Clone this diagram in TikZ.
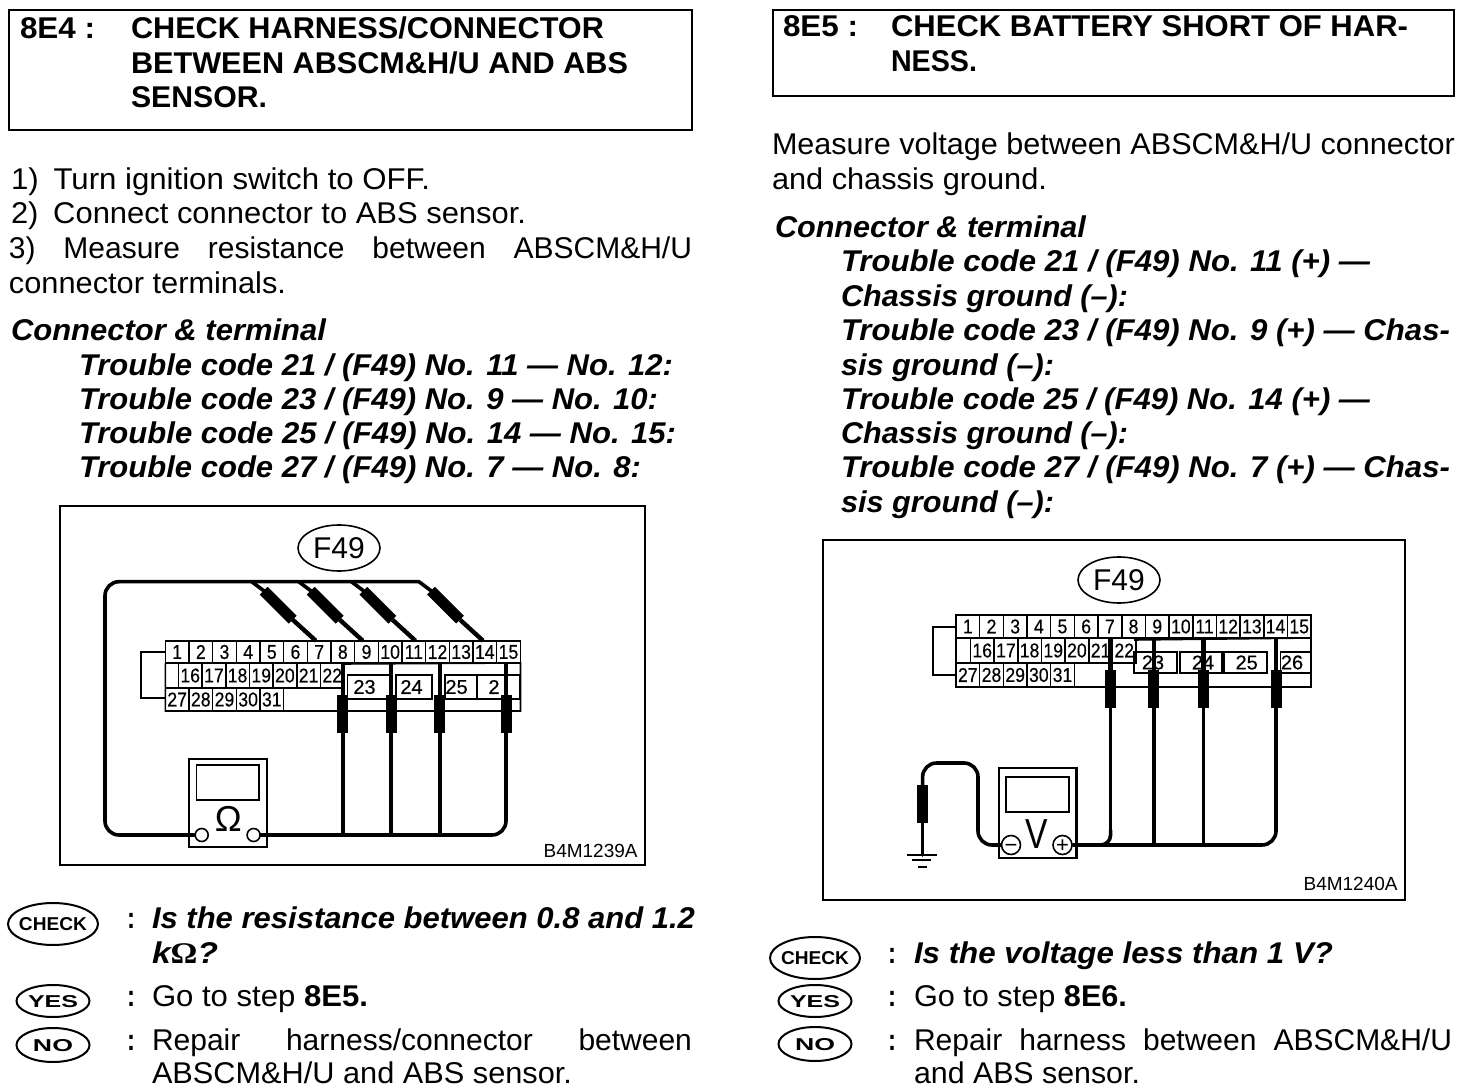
\documentclass[tikz,border=0pt]{standalone}
\usepackage{fontspec}
\usepackage{graphicx}
\setmainfont{Liberation Sans}
\newfontfamily\serifom{Liberation Serif}
\newfontfamily\digitfont[FakeBold=0.4]{Liberation Sans}
\usetikzlibrary{shapes.geometric}
\newcount\tcnt
\newcommand{\rg}{\fontsize{15}{17}\selectfont}
\newcommand{\bd}{\fontsize{15}{17}\selectfont\bfseries}
\newcommand{\bi}{\fontsize{15}{17}\selectfont\bfseries\itshape}
% fitted line: x, baseline y, width px, font, text
\newcommand{\tl}[5]{\global\advance\tcnt by 1
  \node[txt] (t\the\tcnt) at (#1,#2) {\resizebox{\dimexpr#3pt/2\relax}{\height}{#4#5}};}
% justified line
\newcommand{\tj}[5]{\global\advance\tcnt by 1
  \node[txt] (t\the\tcnt) at (#1,#2) {\makebox[\dimexpr#3pt/2\relax][s]{#4#5}};}
% row of cells: prefix, x0, ytop, ybottom, labels
\newcommand{\cells}[5]{%
  \foreach \l [count=\i from 0] in {#5} {
    \node[cellbox, minimum height=\dimexpr(#4pt-#3pt)/2\relax] (#1\l) at ({#2+23.67*\i+11.83},{(#3+#4)/2}) {\scalebox{0.88}[1]{\l}};
  }}
% upright probe: prefix, x, ypin, ythick, yend, ybottom
\newcommand{\vprobe}[6]{%
  \coordinate (#1a) at (#2,#3);
  \coordinate (#1b) at (#2,#4);
  \coordinate (#1c) at (#2,#5);
  \coordinate (#1d) at (#2,#6);
  \draw[pin] (#1a) -- (#1b);
  \draw[grip] (#1b) -- (#1c);
  \draw[wire] (#1c) -- (#1d);}
% slanted probe: prefix, start x, start y
\newcommand{\dprobe}[3]{%
  \coordinate (#1a) at (#2,#3);
  \coordinate (#1b) at ({#2+12},{#3+9});
  \coordinate (#1c) at ({#2+41},{#3+38});
  \coordinate (#1d) at ({#2+64},{#3+59});
  \draw[wire] (#1a) -- (#1b);
  \draw[grip] (#1b) -- (#1c);
  \draw[pin] (#1c) -- (#1d);}
\tikzset{
  txt/.style={anchor=base west,inner sep=0pt,outer sep=0pt},
  frame/.style={draw,line width=1.1pt},
  figframe/.style={draw,line width=0.9pt},
  cellbox/.style={draw,line width=0.8pt,rectangle,inner sep=0pt,minimum width=11.83pt,font=\digitfont\fontsize{10}{10}\selectfont},
  blockbox/.style={draw,line width=0.8pt,rectangle,inner sep=0pt},
  blocklabel/.style={inner sep=0pt,font=\digitfont\fontsize{10}{10}\selectfont},
  thinln/.style={line width=0.8pt},
  wire/.style={line width=1.8pt,line cap=round,line join=round},
  pin/.style={line width=2.2pt},
  grip/.style={line width=5.5pt},
  tag/.style={draw,ellipse,line width=1pt,inner sep=0pt,fill=white},
  fortynine/.style={draw,ellipse,line width=0.8pt,inner sep=0pt,minimum width=41pt,minimum height=23pt,font=\fontsize{15}{15}\selectfont},
  term/.style={draw,circle,line width=0.8pt,inner sep=0pt,fill=white},
  code/.style={anchor=base east,inner sep=0pt,font=\fontsize{9.5}{10}\selectfont},
}
\newcommand{\tagtext}[3]{\makebox[0pt][c]{\smash{\raisebox{-0.5\dimexpr#2pt\relax}{\resizebox{#1pt}{#2pt}{\bfseries #3}}}}}
\newcommand{\termsign}[1]{\makebox[0pt][c]{\smash{\raisebox{-3.6pt}{\fontsize{11}{11}\selectfont #1}}}}
\begin{document}
\begin{tikzpicture}[x=0.5pt,y=-0.5pt]
\useasboundingbox (0,0) rectangle (1472,1090);
\fill[white] (0,0) rectangle (1472,1090);
%% ---------- LEFT COLUMN ----------
\draw[frame] (9,10) rectangle (692,130);
\tl{20}{39}{75}{\bd}{8E4 :}
\tl{131}{39}{473}{\bd}{CHECK HARNESS/CONNECTOR}
\tl{131}{74}{497}{\bd}{BETWEEN ABSCM\&H/U AND ABS}
\tl{131}{108}{136}{\bd}{SENSOR.}
\tl{11}{190}{419}{\rg}{1)\hspace{3pt} Turn ignition switch to OFF.}
\tl{11}{224}{515}{\rg}{2)\hspace{3pt} Connect connector to ABS sensor.}
\tj{9}{259}{683}{\rg}{3) Measure resistance between ABSCM\&H/U}
\tl{9}{294}{277}{\rg}{connector terminals.}
\tl{11}{341}{315}{\bi}{Connector \& terminal}
\tl{79}{376}{594}{\bi}{Trouble code 21 / (F49) No. 11 — No. 12:}
\tl{79}{410}{579}{\bi}{Trouble code 23 / (F49) No. 9 — No. 10:}
\tl{79}{444}{597}{\bi}{Trouble code 25 / (F49) No. 14 — No. 15:}
\tl{79}{478}{562}{\bi}{Trouble code 27 / (F49) No. 7 — No. 8:}
% left figure
\draw[figframe] (60,506) rectangle (645,865);
\node[fortynine] (fa) at (339,548) {F49};
\draw[thinln] (165,652) -- (141,652) -- (141,698) -- (165,698);
\cells{a}{165.3}{641}{663}{1,2,3,4,5,6,7,8,9,10,11,12,13,14,15}
\cells{b}{178.4}{663}{688}{16,17,18,19,20,21,22}
\cells{c}{165.3}{688}{711}{27,28,29,30,31}
\draw[thinln] (165.3,663) -- (165.3,711) -- (520.5,711) -- (520.5,663) -- (342,664);
\node[blockbox,minimum width=21.7pt,minimum height=12pt] (a23) at (369,687) {};
\node[blockbox,minimum width=18pt,minimum height=12pt] (a24) at (414,687) {};
\node[blockbox,minimum width=16pt,minimum height=12pt] (a25) at (461,687) {};
\node[blockbox,minimum width=21.5pt,minimum height=12pt] (a26) at (498.5,687) {};
\node[blocklabel] (la23) at (364.5,687) {23};
\node[blocklabel] (la24) at (411.5,687) {24};
\node[blocklabel] (la25) at (456.6,687) {25};
\node[blocklabel] (la26) at (494,687) {2};
\draw[frame] (189,759) rectangle (266.8,846.7);
\draw[thinln] (196.5,765) rectangle (259,800);
\node[inner sep=0pt,font=\fontsize{18}{18}\selectfont] (aom) at (228.4,819) {Ω};
\node[term,minimum size=6.5pt] (at1) at (201.7,835) {};
\node[term,minimum size=6.5pt] (at2) at (253.6,835) {};
\vprobe{p}{342.7}{663}{695}{733}{835}
\vprobe{q}{391}{663}{695}{733}{835}
\vprobe{r}{439.7}{663}{695}{733}{835}
\vprobe{s}{506}{663}{695}{733}{820}
\dprobe{u}{251.7}{581.7}
\dprobe{v}{298.7}{581.7}
\dprobe{w}{351.4}{581.7}
\dprobe{z}{419}{581.7}
\draw[wire,rounded corners=7pt] (at1) -- (105,835) -- (105,581.7) -- (za);
\draw[wire,rounded corners=7pt] (at2) -- (506,835) -- (sd);
\node[code] (acode) at (638,857) {B4M1239A};
\node[tag,minimum width=45pt,minimum height=21pt] (acheck) at (53,924) {\tagtext{34}{6.5}{CHECK}};
\node[tag,minimum width=36.5pt,minimum height=16pt] (ayes) at (53,1001) {\tagtext{25}{6}{YES}};
\node[tag,minimum width=36.5pt,minimum height=17pt] (ano) at (53,1045) {\tagtext{20}{6}{NO}};
\tl{127}{928}{8}{\bd}{:}
\tl{152}{928}{543}{\bi}{Is the resistance between 0.8 and 1.2}
\tl{152}{963}{66}{\bi}{k{\serifom\upshape Ω}?}
\tl{127}{1006}{8}{\bd}{:}
\tl{152}{1006}{216}{\rg}{Go to step \textbf{8E5.}}
\tl{127}{1050}{8}{\bd}{:}
\tj{152}{1050}{540}{\rg}{Repair harness/connector between}
\tl{152}{1083}{420}{\rg}{ABSCM\&H/U and ABS sensor.}
%% ---------- RIGHT COLUMN ----------
\draw[frame] (773,10) rectangle (1454,96);
\tl{783}{37}{75}{\bd}{8E5 :}
\tl{891}{37}{517}{\bd}{CHECK BATTERY SHORT OF HAR-}
\tl{891}{72}{86}{\bd}{NESS.}
\tl{772}{155}{683}{\rg}{Measure voltage between ABSCM\&H/U connector}
\tl{772}{190}{275}{\rg}{and chassis ground.}
\tl{775}{238}{311}{\bi}{Connector \& terminal}
\tl{841}{272}{529}{\bi}{Trouble code 21 / (F49) No. 11 (+) —}
\tl{841}{307}{287}{\bi}{Chassis ground (–):}
\tl{841}{341}{609}{\bi}{Trouble code 23 / (F49) No. 9 (+) — Chas-}
\tl{841}{376}{213}{\bi}{sis ground (–):}
\tl{841}{410}{529}{\bi}{Trouble code 25 / (F49) No. 14 (+) —}
\tl{841}{444}{287}{\bi}{Chassis ground (–):}
\tl{841}{478}{609}{\bi}{Trouble code 27 / (F49) No. 7 (+) — Chas-}
\tl{841}{513}{213}{\bi}{sis ground (–):}
% right figure
\draw[figframe] (823,540) rectangle (1405,900);
\node[fortynine] (fb) at (1119,580) {F49};
\draw[thinln] (956,627) -- (933,627) -- (933,675) -- (956,675);
\cells{d}{956}{615}{638}{1,2,3,4,5,6,7,8,9,10,11,12,13,14,15}
\cells{e}{970.4}{638}{663}{16,17,18,19,20,21,22}
\cells{f}{956}{663}{687}{27,28,29,30,31}
\draw[thinln] (956,638) -- (956,687) -- (1311,687) -- (1311,638) -- (1134,640);
\node[blockbox,minimum width=21.5pt,minimum height=10.5pt] (b23) at (1155.5,662.5) {};
\node[blockbox,minimum width=21pt,minimum height=10.5pt] (b24) at (1201,662.5) {};
\node[blockbox,minimum width=21.5pt,minimum height=10.5pt] (b25) at (1245.5,662.5) {};
\node[blockbox,minimum width=15.5pt,minimum height=10.5pt] (b26) at (1296,662.5) {};
\node[blocklabel] (lb23) at (1153,662.5) {23};
\node[blocklabel] (lb24) at (1203,662.5) {24};
\node[blocklabel] (lb25) at (1246.7,662.5) {25};
\node[blocklabel] (lb26) at (1292,662.5) {26};
\draw[frame] (998.6,768) rectangle (1076.4,858);
\draw[thinln] (1006,776.7) rectangle (1069,811.7);
\node[inner sep=0pt,font=\fontsize{21}{21}\selectfont] (bv) at (1037,834) {\scalebox{0.8}[1]{V}};
\node[term,minimum size=9.5pt] (bt1) at (1011,845) {\termsign{−}};
\node[term,minimum size=9.5pt] (bt2) at (1062.5,845) {\termsign{+}};
\vprobe{g}{1110.6}{638}{670}{708}{830}
\vprobe{h}{1153.8}{638}{670}{708}{845}
\vprobe{j}{1203.5}{638}{670}{708}{845}
\vprobe{k}{1276}{638}{670}{708}{830}
\draw[wire,rounded corners=7pt] (bt2) -- (1276,845) -- (kd);
\draw[wire,rounded corners=5pt] (gd) -- (1110.6,845) -- (1100,845);
% ground lead
\coordinate (gnda) at (922.6,785);
\coordinate (gndb) at (922.6,823);
\coordinate (gndc) at (922.6,855);
\draw[wire,rounded corners=7pt] (bt1) -- (978,845) -- (978,763) -- (922.6,763) -- (gnda);
\draw[grip] (gnda) -- (gndb);
\draw[wire] (gndb) -- (gndc);
\draw[line width=1.2pt] (906.5,855) -- (936.5,855);
\draw[line width=1.2pt] (912,860) -- (931,860);
\draw[line width=1.2pt] (918,867) -- (927,867);
\node[code] (bcode) at (1398,890) {B4M1240A};
\node[tag,minimum width=45pt,minimum height=21pt] (bcheck) at (815,958) {\tagtext{34}{6.5}{CHECK}};
\node[tag,minimum width=36.5pt,minimum height=16pt] (byes) at (815,1001) {\tagtext{25}{6}{YES}};
\node[tag,minimum width=36.5pt,minimum height=17pt] (bno) at (815,1044) {\tagtext{20}{6}{NO}};
\tl{888}{963}{8}{\bd}{:}
\tl{914}{963}{419}{\bi}{Is the voltage less than 1 V?}
\tl{888}{1006}{8}{\bd}{:}
\tl{914}{1006}{213}{\rg}{Go to step \textbf{8E6.}}
\tl{888}{1050}{8}{\bd}{:}
\tj{914}{1050}{538}{\rg}{Repair harness between ABSCM\&H/U}
\tl{914}{1083}{226}{\rg}{and ABS sensor.}
\end{tikzpicture}
\end{document}
